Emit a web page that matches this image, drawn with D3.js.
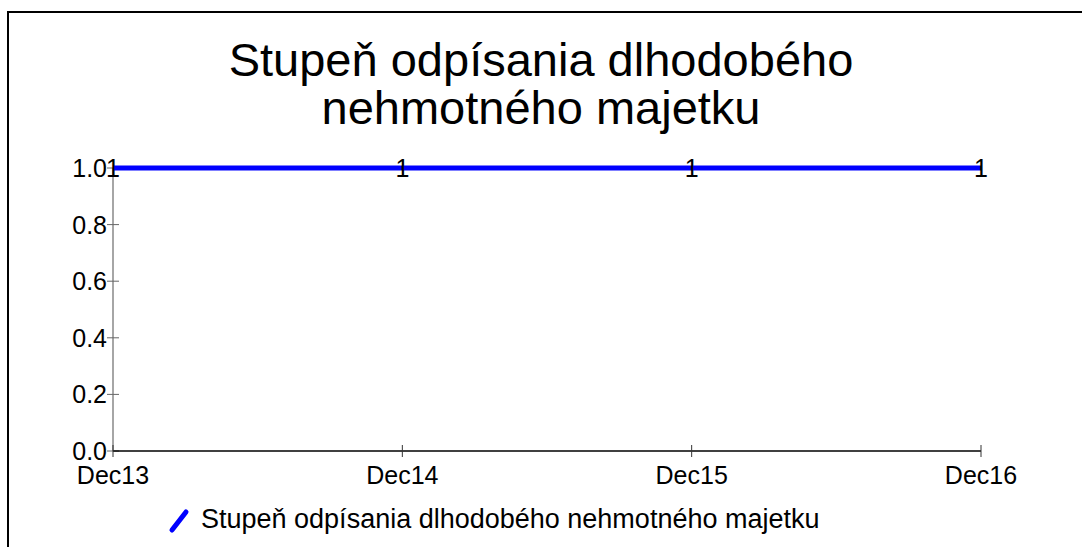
<!DOCTYPE html>
<html lang="en">
<head>
    <meta charset="UTF-8">
    <title>Stupeň odpísania dlhodobého nehmotného majetku</title>
    <script src="https://d3js.org/d3.v7.min.js"></script>
    <style>
        body { margin: 0; overflow: hidden; background: #fff; }
        text { font-family: "Liberation Sans", Arial, sans-serif; fill: #000; }
    </style>
</head>
<body>
    <script>
        const width = 1082;
        const height = 547;

        const categories = ["Dec13", "Dec14", "Dec15", "Dec16"];
        const values = [1, 1, 1, 1];
        const yTicks = [0.0, 0.2, 0.4, 0.6, 0.8, 1.0];
        const titleLines = ["Stupeň odpísania dlhodobého", "nehmotného majetku"];
        const seriesName = "Stupeň odpísania dlhodobého nehmotného majetku";

        const svg = d3.select("body")
            .append("svg")
            .attr("width", width)
            .attr("height", height);

        // outer frame (only left and top edges are visible)
        svg.append("rect")
            .attr("x", 8).attr("y", 12)
            .attr("width", 1100).attr("height", 600)
            .attr("fill", "none")
            .attr("stroke", "#000")
            .attr("stroke-width", 2);

        // title
        svg.append("text")
            .attr("text-anchor", "middle")
            .attr("font-size", 47)
            .selectAll("tspan")
            .data(titleLines)
            .enter().append("tspan")
            .attr("x", 541)
            .attr("y", (d, i) => 76 + i * 48)
            .text(d => d);

        const x = d3.scalePoint()
            .domain(categories)
            .range([113, 981]);

        const y = d3.scaleLinear()
            .domain([0, 1])
            .range([451, 168]);

        // y axis
        const yAxis = svg.append("g").attr("transform", "translate(113,0)");
        yAxis.append("line")
            .attr("y1", y(0)).attr("y2", y(1))
            .attr("stroke", "#888").attr("stroke-width", 1.5);
        yAxis.selectAll("line.tick")
            .data(yTicks)
            .enter().append("line")
            .attr("class", "tick")
            .attr("x1", -6).attr("x2", 6)
            .attr("y1", d => y(d)).attr("y2", d => y(d))
            .attr("stroke", "#666");
        yAxis.selectAll("text")
            .data(yTicks)
            .enter().append("text")
            .attr("x", -6)
            .attr("y", d => y(d) + 9)
            .attr("text-anchor", "end")
            .attr("font-size", 25)
            .text(d => d.toFixed(1));

        // x axis
        const xAxis = svg.append("g").attr("transform", `translate(0,${y(0)})`);
        xAxis.append("line")
            .attr("x1", x(categories[0])).attr("x2", x(categories[categories.length - 1]))
            .attr("stroke", "#000").attr("stroke-width", 1.5);
        xAxis.selectAll("line.tick")
            .data(categories)
            .enter().append("line")
            .attr("class", "tick")
            .attr("x1", d => x(d)).attr("x2", d => x(d))
            .attr("y1", -6).attr("y2", 6)
            .attr("stroke", "#333");
        xAxis.selectAll("text")
            .data(categories)
            .enter().append("text")
            .attr("x", d => x(d))
            .attr("y", 33)
            .attr("text-anchor", "middle")
            .attr("font-size", 25)
            .text(d => d);

        // series line
        const line = d3.line()
            .x((d, i) => x(categories[i]))
            .y(d => y(d));
        svg.append("path")
            .datum(values)
            .attr("d", line)
            .attr("fill", "none")
            .attr("stroke", "#0000ff")
            .attr("stroke-width", 5);

        // data labels
        svg.selectAll("text.label")
            .data(values)
            .enter().append("text")
            .attr("class", "label")
            .attr("x", (d, i) => x(categories[i]))
            .attr("y", d => y(d) + 9)
            .attr("text-anchor", "middle")
            .attr("font-size", 25)
            .text(d => d);

        // legend
        const legend = svg.append("g");
        legend.append("line")
            .attr("x1", 172).attr("y1", 530)
            .attr("x2", 186).attr("y2", 512)
            .attr("stroke", "#0000ff")
            .attr("stroke-width", 5)
            .attr("stroke-linecap", "round");
        legend.append("text")
            .attr("x", 201).attr("y", 528)
            .attr("font-size", 27)
            .text(seriesName);
    </script>
</body>
</html>
